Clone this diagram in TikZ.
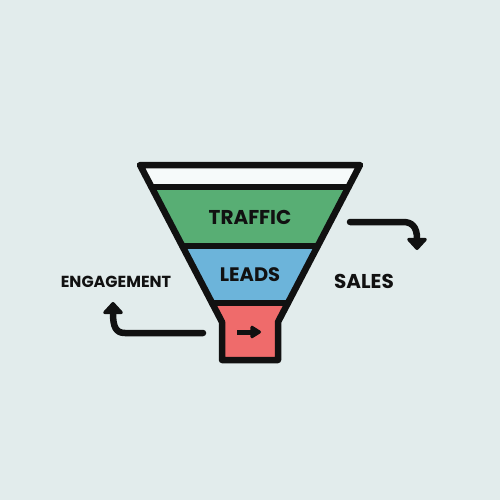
\documentclass[tikz,border=0pt]{standalone}
\usepackage{fontspec}
\setmainfont{Poppins}
\usetikzlibrary{arrows.meta}
\definecolor{bg}{HTML}{E2ECEC}
\definecolor{fgreen}{HTML}{58AE74}
\definecolor{fblue}{HTML}{6CB4DA}
\definecolor{fred}{HTML}{EF6B6B}
\definecolor{ftop}{HTML}{F6FAFA}
\definecolor{ink}{HTML}{111111}
\begin{document}
\begin{tikzpicture}[x=1pt,y=-1pt,
  outl/.style={draw=ink,line width=6.5pt,line join=round,line cap=round},
  curvearrow/.style={outl,-{Triangle[width=23pt,length=13pt,round]}},
  lbl/.style={text=ink,font=\bfseries\fontsize{#1}{#1}\selectfont,inner sep=0pt}]
\fill[bg] (0,0) rectangle (500,500);
\useasboundingbox (0,0) rectangle (500,500);
% bands
\fill[ftop] (140,165) -- (360,165) -- (348.5,187) -- (151.5,187) -- cycle;
\fill[fgreen] (151.5,187) -- (348.5,187) -- (317.7,246) -- (182.3,246) -- cycle;
\fill[fblue] (182.3,246) -- (317.7,246) -- (288,303) -- (212,303) -- cycle;
\fill[fred] (212,303) -- (288,303) -- (278,322) -- (278,360) -- (222,360) -- (222,322) -- cycle;
% outline
\draw[outl] (140,165) -- (360,165) -- (278,322) -- (278,360) -- (222,360) -- (222,322) -- cycle;
\draw[outl] (151.5,187) -- (348.5,187);
\draw[outl] (182.3,246) -- (317.7,246);
\draw[outl] (212,303) -- (288,303);
% labels
\node[lbl=20] (traffic) at (250,217) {TRAFFIC};
\node[lbl=19.5] (leads) at (250,275) {LEADS};
\node[lbl=16] (engagement) at (116,282) {ENGAGEMENT};
\node[lbl=20] (sales) at (364,281) {SALES};
% small arrow
\coordinate (sa) at (237,332);
\coordinate (sb) at (261,332);
\draw[draw=ink,line width=5pt,-{Triangle[width=14pt,length=12pt,round]}] (sa) -- (sb);
% curved arrows
\coordinate (la) at (203,333);
\coordinate (lb) at (125,333);
\coordinate (lc) at (113,302);
\draw[curvearrow] (la) -- (lb) .. controls (116,333) and (113,327) .. (lc);
\coordinate (ra) at (350,222);
\coordinate (rb) at (403,222);
\coordinate (rc) at (417,250);
\draw[curvearrow] (ra) -- (rb) .. controls (412,222) and (417,227) .. (rc);
\end{tikzpicture}
\end{document}
